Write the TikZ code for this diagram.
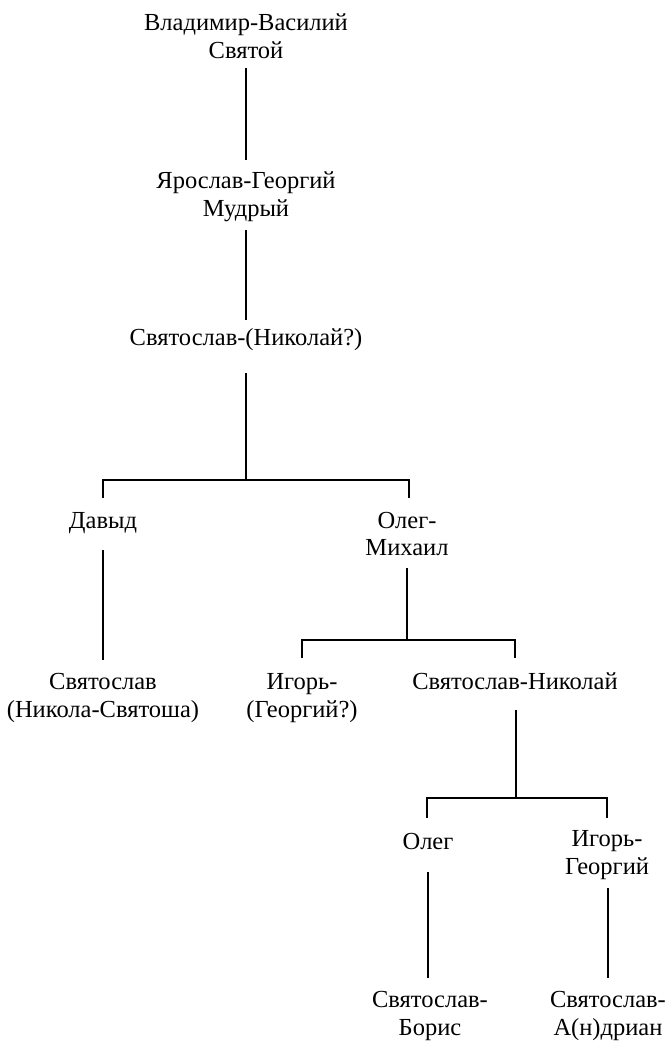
\documentclass[tikz,border=0pt]{standalone}
\usepackage{fontspec}
\setmainfont{Liberation Serif}
\begin{document}
\begin{tikzpicture}[x=1pt,y=-1pt,
  person/.style={inner sep=0pt,align=center,font=\fontsize{24.5}{28}\selectfont},
  link/.style={line width=1.6pt,line cap=butt}]
\useasboundingbox (0,0) rectangle (667,1042);
\node[person] (a) at (246,36) {Владимир-Василий\\Святой};
\node[person] (b) at (246,197) {Ярослав-Георгий\\Мудрый};
\node[person] (c) at (246,340) {Святослав-(Николай?)};
\node[person] (d) at (103,523) {Давыд};
\node[person] (e) at (407,534) {Олег-\\Михаил};
\node[person] (f) at (103,698) {Святослав\\(Никола-Святоша)};
\node[person] (g) at (302,698) {Игорь-\\(Георгий?)};
\node[person] (h) at (515,681) {Святослав-Николай};
\node[person] (i) at (428,841) {Олег};
\node[person] (j) at (607,855) {Игорь-\\Георгий};
\node[person] (k) at (430,1016) {Святослав-\\Борис};
\node[person] (l) at (608,1016) {Святослав-\\А(н)дриан};
% junctions
\coordinate (j1) at (246,480);
\coordinate (j1l) at (103,480);
\coordinate (j1r) at (409,480);
\coordinate (j2) at (407,640);
\coordinate (j2l) at (302,640);
\coordinate (j2r) at (515,640);
\coordinate (j3) at (516,798);
\coordinate (j3l) at (427,798);
\coordinate (j3r) at (607,798);
% connectors
\draw[link] (a.center |- 0,68) -- (b.center |- 0,160);
\draw[link] (b.center |- 0,230) -- (c.center |- 0,320);
\draw[link] (j1 |- 0,373) -- (j1);
\draw[link] (j1l |- 0,498) -- (j1l) -- (j1r) -- (j1r |- 0,498);
\draw[link] (d.center |- 0,550) -- (f.center |- 0,660);
\draw[link] (j2 |- 0,568) -- (j2);
\draw[link] (j2l |- 0,658) -- (j2l) -- (j2r) -- (j2r |- 0,658);
\draw[link] (j3 |- 0,710) -- (j3);
\draw[link] (j3l |- 0,818) -- (j3l) -- (j3r) -- (j3r |- 0,818);
\draw[link] (i.center |- 0,872) -- (i.center |- 0,978);
\draw[link] (l.center |- 0,888) -- (l.center |- 0,978);
\end{tikzpicture}
\end{document}
